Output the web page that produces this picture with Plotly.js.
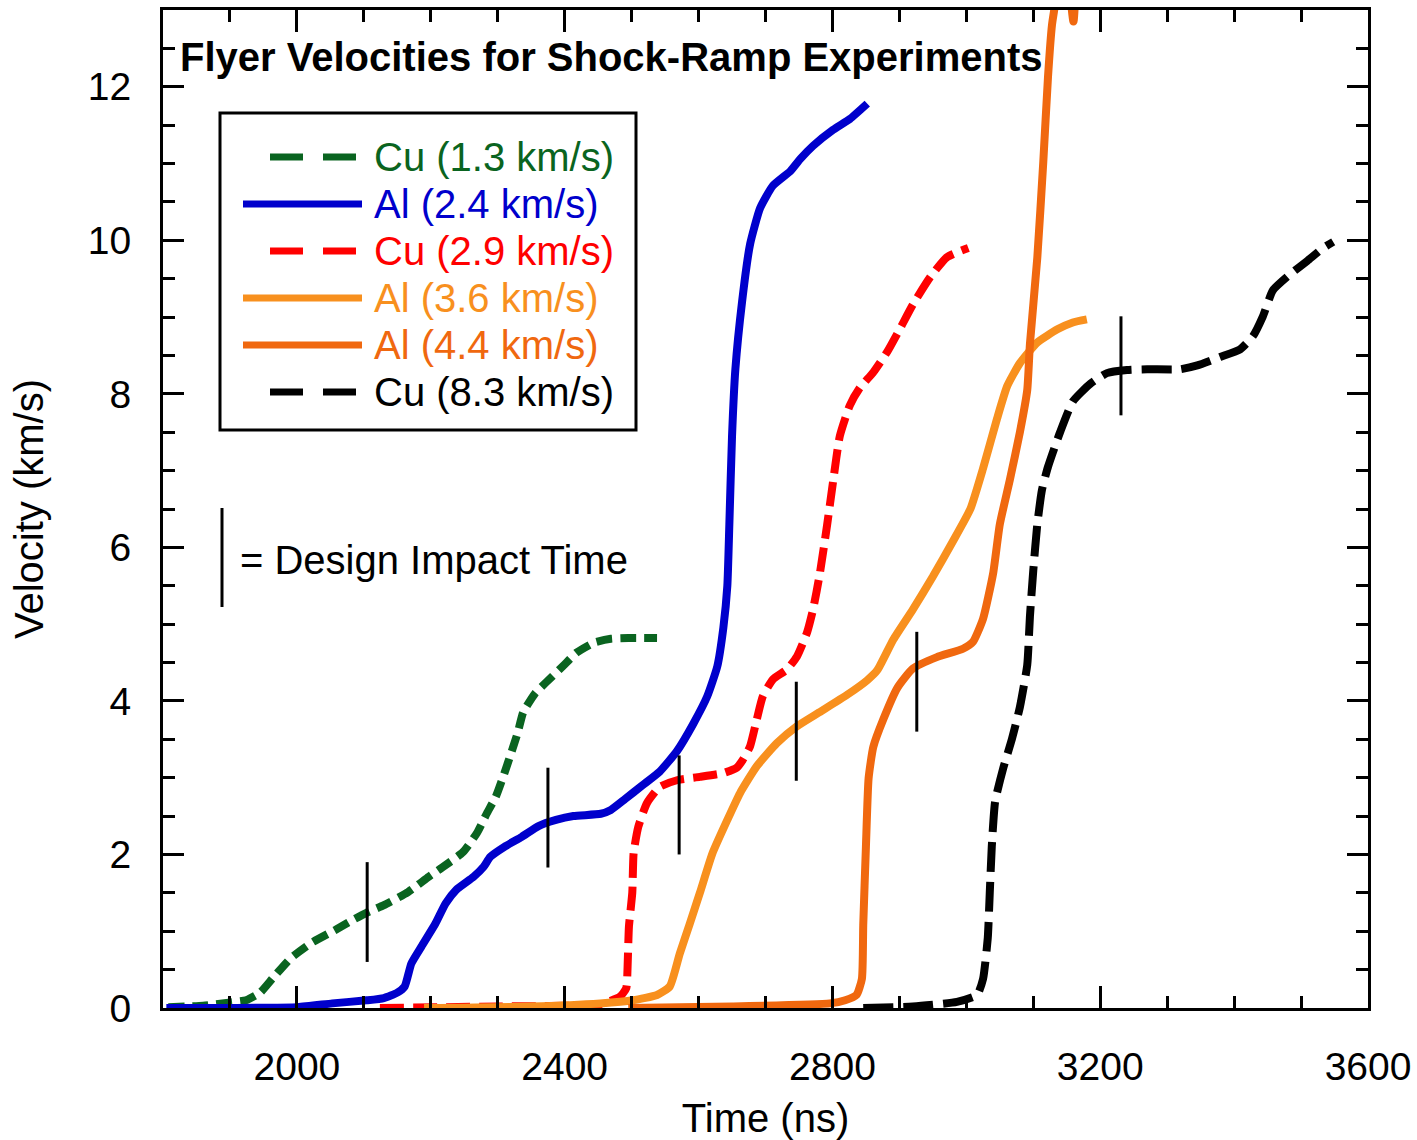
<!DOCTYPE html>
<html>
<head>
<meta charset="utf-8">
<script src="https://cdn.plot.ly/plotly-3.0.1.min.js"></script>
<style>
  html, body { margin: 0; padding: 0; background: #ffffff; }
  #chart { width: 1417px; height: 1140px; }
</style>
</head>
<body>
<div id="chart"></div>
<script>
// Flyer velocity histories (time in ns, velocity in km/s)
const timeCu13 = [1808, 1860, 1898, 1924, 1945, 1965, 1991, 2022, 2058, 2084, 2104, 2130, 2166, 2197, 2217, 2248, 2269, 2284, 2297, 2310, 2320, 2330, 2338, 2356, 2372, 2397, 2418, 2444, 2469, 2495, 2538];
const velCu13  = [0.01, 0.03, 0.07, 0.1, 0.2, 0.4, 0.65, 0.85, 1.02, 1.15, 1.24, 1.34, 1.51, 1.71, 1.83, 2.03, 2.28, 2.54, 2.75, 3.06, 3.32, 3.59, 3.85, 4.1, 4.24, 4.45, 4.63, 4.76, 4.81, 4.82, 4.82];

const timeAl24 = [1805, 1900, 2001, 2053, 2104, 2130, 2150, 2161, 2171, 2186, 2207, 2222, 2238, 2264, 2279, 2289, 2310, 2336, 2361, 2387, 2413, 2454, 2469, 2490, 2516, 2542, 2568, 2592, 2613, 2628, 2637, 2643, 2646, 2650, 2655, 2665, 2677, 2692, 2711, 2737, 2752, 2771, 2801, 2826, 2852];
const velAl24  = [0, 0, 0.01, 0.06, 0.1, 0.13, 0.2, 0.28, 0.58, 0.8, 1.1, 1.36, 1.54, 1.71, 1.84, 1.97, 2.1, 2.23, 2.37, 2.45, 2.5, 2.53, 2.58, 2.72, 2.9, 3.08, 3.35, 3.7, 4.06, 4.45, 4.95, 5.5, 6.3, 7.45, 8.32, 9.2, 9.95, 10.42, 10.71, 10.9, 11.06, 11.23, 11.44, 11.58, 11.78];

const timeCu29 = [2124, 2300, 2453, 2483, 2492, 2494, 2496, 2501, 2503, 2510, 2523, 2542, 2569, 2602, 2637, 2657, 2666, 2677, 2687, 2696, 2711, 2732, 2747, 2762, 2771, 2781, 2792, 2801, 2811, 2826, 2841, 2861, 2882, 2901, 2920, 2946, 2971, 3003];
const velCu29  = [0, 0.02, 0.05, 0.15, 0.26, 0.54, 1.06, 1.5, 2.02, 2.36, 2.67, 2.88, 2.97, 3.01, 3.06, 3.13, 3.23, 3.41, 3.76, 4.06, 4.28, 4.41, 4.58, 4.89, 5.19, 5.65, 6.29, 6.86, 7.45, 7.85, 8.08, 8.28, 8.55, 8.85, 9.16, 9.52, 9.78, 9.9];

const timeAl36 = [2190, 2350, 2453, 2502, 2538, 2557, 2572, 2587, 2602, 2621, 2643, 2662, 2687, 2717, 2747, 2780, 2822, 2852, 2867, 2891, 2920, 2950, 2980, 3006, 3025, 3046, 3061, 3080, 3106, 3136, 3159, 3180];
const velAl36  = [0, 0.02, 0.06, 0.1, 0.17, 0.28, 0.71, 1.1, 1.5, 2.02, 2.45, 2.8, 3.15, 3.45, 3.67, 3.85, 4.08, 4.27, 4.4, 4.8, 5.19, 5.62, 6.08, 6.5, 7.03, 7.68, 8.1, 8.4, 8.67, 8.84, 8.93, 8.97];

const timeAl44 = [2495, 2650, 2796, 2819, 2836, 2844, 2846, 2850, 2854, 2861, 2876, 2897, 2920, 2956, 2995, 3010, 3025, 3040, 3050, 3065, 3080, 3091, 3095, 3106, 3115, 3122, 3128, 3133, 3145, 3160, 3166];
const velAl44  = [0, 0.02, 0.06, 0.1, 0.17, 0.38, 1.08, 2.1, 2.99, 3.4, 3.76, 4.17, 4.42, 4.57, 4.68, 4.77, 5.07, 5.66, 6.3, 6.88, 7.5, 8.05, 8.65, 9.77, 11.03, 12.13, 12.81, 13.1, 14.0, 12.85, 14.0];

const timeCu83 = [2846, 2920, 2986, 3016, 3025, 3032, 3035, 3038, 3043, 3055, 3068, 3080, 3091, 3095, 3100, 3106, 3113, 3122, 3140, 3159, 3185, 3210, 3240, 3270, 3319, 3345, 3379, 3409, 3428, 3443, 3458, 3484, 3509, 3533, 3548];
const velCu83  = [0, 0.02, 0.08, 0.17, 0.38, 0.91, 1.5, 2.1, 2.69, 3.12, 3.5, 3.92, 4.47, 5.1, 5.7, 6.3, 6.75, 7.05, 7.5, 7.9, 8.13, 8.27, 8.31, 8.32, 8.32, 8.37, 8.48, 8.58, 8.75, 9.01, 9.35, 9.56, 9.73, 9.9, 9.98];

// Design impact time markers: time and the velocity span of each bar
const impactTime = [2105, 2375, 2571, 2746, 2926, 3231];
const impactLow  = [0.6, 1.83, 2.0, 2.96, 3.6, 7.72];
const impactHigh = [1.9, 3.13, 3.29, 4.25, 4.9, 9.01];

const seriesNames  = ['Cu (1.3 km/s)', 'Al (2.4 km/s)', 'Cu (2.9 km/s)', 'Al (3.6 km/s)', 'Al (4.4 km/s)', 'Cu (8.3 km/s)'];
const seriesTimes  = [timeCu13, timeAl24, timeCu29, timeAl36, timeAl44, timeCu83];
const seriesVels   = [velCu13, velAl24, velCu29, velAl36, velAl44, velCu83];
const seriesColors = ['#0a6420', '#0000cc', '#ff0000', '#f8901e', '#f0680f', '#000000'];
const seriesDashed = [true, false, true, false, false, true];
const seriesDash   = ['16px,8px', 'solid', '24px,9px', 'solid', 'solid', '30px,10px'];

const FONT = 'Arial, "Liberation Sans", sans-serif';

// Plot-area pixel geometry, used to place the hand-drawn key
const L = 163, R = 1368, T = 10, B = 1008;
const px = p => (p - L) / (R - L);
const py = p => (B - p) / (B - T);

const traces = seriesNames.map((name, i) => ({
  type: 'scatter',
  mode: 'lines',
  name: name,
  x: seriesTimes[i],
  y: seriesVels[i],
  line: { color: seriesColors[i], width: 8, dash: seriesDash[i], shape: 'spline', smoothing: 0.5 },
  showlegend: false,
  hoverinfo: 'x+y+name'
}));

// Impact bars as one broken line trace
const barX = [], barY = [];
impactTime.forEach((t, i) => {
  barX.push(t, t, null);
  barY.push(impactLow[i], impactHigh[i], null);
});
traces.push({
  type: 'scatter',
  mode: 'lines',
  name: 'Design Impact Time',
  x: barX,
  y: barY,
  line: { color: '#000000', width: 3 },
  showlegend: false,
  hoverinfo: 'x'
});

// Key: box, line samples and coloured labels
const rowY = [157, 204, 251, 298, 345, 392];
const shapes = [
  { type: 'rect', xref: 'paper', yref: 'paper', x0: px(220), x1: px(636), y0: py(113), y1: py(430),
    line: { color: '#000000', width: 3 }, fillcolor: '#ffffff', layer: 'above' },
  { type: 'line', xref: 'paper', yref: 'paper', x0: px(222), x1: px(222), y0: py(508), y1: py(607),
    line: { color: '#000000', width: 3 }, layer: 'above' }
];
const annotations = [
  { xref: 'paper', yref: 'paper', x: px(178), y: py(57), xanchor: 'left', yanchor: 'middle',
    text: '<b>Flyer Velocities for Shock-Ramp Experiments</b>', showarrow: false,
    font: { family: FONT, size: 40, color: '#000000' } },
  { xref: 'paper', yref: 'paper', x: px(238), y: py(560), xanchor: 'left', yanchor: 'middle',
    text: '= Design Impact Time', showarrow: false,
    font: { family: FONT, size: 40, color: '#000000' } }
];
seriesNames.forEach((name, i) => {
  const y = py(rowY[i]);
  shapes.push({
    type: 'line', xref: 'paper', yref: 'paper',
    x0: px(seriesDashed[i] ? 270 : 243), x1: px(seriesDashed[i] ? 357 : 362), y0: y, y1: y,
    line: { color: seriesColors[i], width: 7, dash: seriesDashed[i] ? '33px,20px' : 'solid' },
    layer: 'above'
  });
  annotations.push({
    xref: 'paper', yref: 'paper', x: px(372), y: y, xanchor: 'left', yanchor: 'middle',
    text: name, showarrow: false,
    font: { family: FONT, size: 40, color: seriesColors[i] }
  });
});

const layout = {
  width: 1417,
  height: 1140,
  margin: { l: L, r: 1417 - R, t: T, b: 1140 - B, pad: 0 },
  paper_bgcolor: '#ffffff',
  plot_bgcolor: '#ffffff',
  font: { family: FONT, size: 39, color: '#000000' },
  showlegend: false,
  xaxis: {
    range: [1800, 3600],
    tick0: 2000, dtick: 400,
    ticks: 'inside', ticklen: 22, tickwidth: 3, tickcolor: '#000000',
    minor: { tick0: 1800, dtick: 100, ticks: 'inside', ticklen: 12, tickwidth: 3, tickcolor: '#000000', showgrid: false },
    showline: true, linewidth: 3, linecolor: '#000000', mirror: 'ticks',
    showgrid: false, zeroline: false,
    tickfont: { family: FONT, size: 39, color: '#000000' },
    ticklabelstandoff: 22,
    title: { text: 'Time (ns)', font: { family: FONT, size: 40, color: '#000000' }, standoff: 18 }
  },
  yaxis: {
    range: [0, 13],
    tick0: 0, dtick: 2,
    ticks: 'inside', ticklen: 21, tickwidth: 3, tickcolor: '#000000',
    minor: { tick0: 0, dtick: 0.5, ticks: 'inside', ticklen: 12, tickwidth: 3, tickcolor: '#000000', showgrid: false },
    showline: true, linewidth: 3, linecolor: '#000000', mirror: 'ticks',
    showgrid: false, zeroline: false,
    tickfont: { family: FONT, size: 39, color: '#000000' },
    ticklabelstandoff: 21,
    title: { text: 'Velocity (km/s)', font: { family: FONT, size: 40, color: '#000000' }, standoff: 32 }
  },
  shapes: shapes,
  annotations: annotations
};

Plotly.newPlot('chart', traces, layout, { displayModeBar: false, staticPlot: true });
</script>
</body>
</html>
